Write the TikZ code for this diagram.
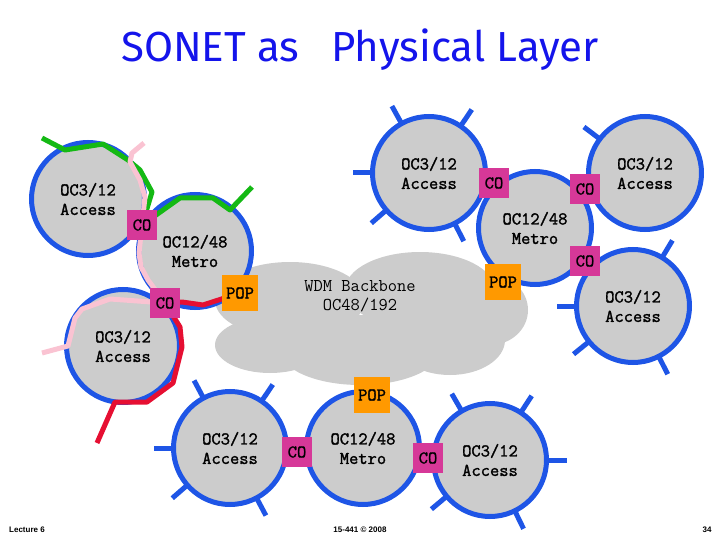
\documentclass[tikz,border=0pt]{standalone}
\usepackage{fontspec}
\setmainfont{Liberation Sans}
\newfontfamily\titlefont{Fira Sans}
\newfontfamily\etiqueta[FakeBold=1.6]{Latin Modern Mono}
\newfontfamily\etiquetaco[FakeBold=0.8]{Latin Modern Mono}
\usetikzlibrary{positioning}
\definecolor{gris}{RGB}{204,204,204}
\definecolor{azul}{RGB}{30,85,230}
\definecolor{azultitulo}{RGB}{20,20,235}
\definecolor{rosa}{RGB}{214,56,152}
\definecolor{naranja}{RGB}{255,153,0}
\definecolor{verde}{RGB}{20,185,20}
\definecolor{rosado}{RGB}{250,195,210}
\definecolor{rojo}{RGB}{230,15,50}
\pgfdeclarelayer{back}
\pgfdeclarelayer{front}
\pgfsetlayers{back,main,front}

\begin{document}
\begin{tikzpicture}[x=1pt, y=-1pt,
  ring/.style={circle, draw=azul, line width=5pt, fill=gris, minimum size=113pt, inner sep=0pt, outer sep=0pt, align=center, font=\etiqueta\fontsize{18}{19.5}\selectfont},
  co/.style={rectangle, fill=rosa, minimum size=30pt, inner sep=0pt, font=\etiquetaco\fontsize{18}{18}\selectfont},
  pop/.style={rectangle, fill=naranja, minimum size=36pt, inner sep=0pt, font=\etiqueta\fontsize{18}{18}\selectfont},
  spoke/.style={draw=azul, line width=5pt},
  ringline/.style={line width=5pt, line join=round},
  foot/.style={font=\bfseries\fontsize{8}{9}\selectfont}
]
\useasboundingbox (0,0) rectangle (720,540);
\node[font=\titlefont\fontsize{42}{48}\selectfont, text=azultitulo] (titulo) at (360,50) {SONET as\hspace{0.5em} Physical Layer};

\begin{pgfonlayer}{back}
% backbone cloud
\fill[gris] (290,300) ellipse [x radius=75pt, y radius=38pt];
\fill[gris] (420,290) ellipse [x radius=75pt, y radius=38pt];
\fill[gris] (490,310) ellipse [x radius=38pt, y radius=35pt];
\fill[gris] (270,345) ellipse [x radius=55pt, y radius=28pt];
\fill[gris] (360,350) ellipse [x radius=80pt, y radius=35pt];
\fill[gris] (450,340) ellipse [x radius=55pt, y radius=35pt];
\node[font=\ttfamily\fontsize{18}{19.5}\selectfont, align=center] (backbone) at (360,296) {WDM Backbone\\OC48/192};

\node[ring] (acc1)   at (88,199)  {OC3/12\\Access};
\node[ring] (metro1) at (195,251) {OC12/48\\Metro};
\node[ring] (acc2)   at (123,346) {OC3/12\\Access};
\node[ring] (acc3)   at (230,448) {OC3/12\\Access};
\node[ring] (metro2) at (363,448) {OC12/48\\Metro};
\node[ring] (acc4)   at (490,460) {OC3/12\\Access};
\node[ring] (acc5)   at (429,173) {OC3/12\\Access};
\node[ring] (metro3) at (535,228) {OC12/48\\Metro};
\node[ring] (acc6)   at (645,173) {OC3/12\\Access};
\node[ring] (acc7)   at (633,306) {OC3/12\\Access};

\foreach \a in {119,56,180,221,297} \draw[spoke] (acc5.\a) -- ++(\a:20pt);
\foreach \a in {143} \draw[spoke] (acc6.\a) -- ++(\a:20pt);
\foreach \a in {59,180,219,297} \draw[spoke] (acc7.\a) -- ++(\a:20pt);
\foreach \a in {118,56,180,221,298} \draw[spoke] (acc3.\a) -- ++(\a:20pt);
\foreach \a in {120,57,0,220,296} \draw[spoke] (acc4.\a) -- ++(\a:20pt);
\end{pgfonlayer}

\begin{pgfonlayer}{front}
\node[co]  (co1)  at (142,225) {CO};
\node[co]  (co2)  at (165,303) {CO};
\node[co]  (co3)  at (494,183) {CO};
\node[co]  (co4)  at (585,189) {CO};
\node[co]  (co5)  at (585,261) {CO};
\node[co]  (co6)  at (297,452) {CO};
\node[co]  (co7)  at (428,458) {CO};
\node[pop] (pop1) at (240,293) {POP};
\node[pop] (pop2) at (503,282) {POP};
\node[pop] (pop3) at (372,395) {POP};
\end{pgfonlayer}

% rings through the access and metro networks
\coordinate (g0) at (42,138);
\coordinate (g1) at (252,187);
\coordinate (p0) at (144,143);
\coordinate (p1) at (42,353);
\coordinate (r1) at (97,443);
\draw[ringline, verde] (g0) -- (65,150) -- (103,144) -- (128,160) -- (140,170) -- (152,192) -- (co1.center)
  -- (180,198) -- (213,198) -- (230,210) -- (g1);
\draw[ringline, rosado] (p0) -- (132,153) -- (130,162) -- (140,180) -- (145,197) -- (co1.center)
  -- (139,253) -- (141,267) -- (148,280) -- (co2.center) -- (110,299) -- (82,309) -- (75,318) -- (68,346) -- (p1);
\draw[ringline, rojo] (pop1.center) -- (203,305) -- (182,302) -- (co2.center) -- (180,327) -- (182,347)
  -- (173,383) -- (147,402) -- (115,402) -- (r1);

\node[foot] (lecture) at (27,530) {Lecture 6};
\node[foot] (curso)   at (360,530) {15-441 © 2008};
\node[foot] (pagina)  at (707,530) {34};
\end{tikzpicture}
\end{document}
